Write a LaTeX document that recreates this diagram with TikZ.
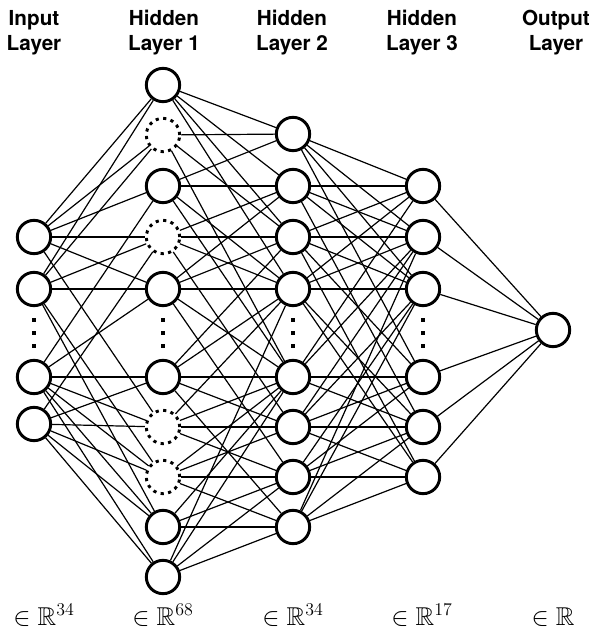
\documentclass[tikz,border=0pt]{standalone}
\usepackage{amssymb}
\usepackage{fontspec}
\setsansfont{TeX Gyre Heros}
\usetikzlibrary{positioning}
\newcommand{\dimtext}[1]{\scalebox{1.12}{$\in\mathbb{R}#1$}}

\begin{document}
\begin{tikzpicture}[
      x=0.75pt, y=-0.75pt,
      neuron/.style ={circle, draw, line width=2.2pt, minimum size=25pt, inner sep=0pt},
      dropped/.style={neuron, dash pattern=on 2.4pt off 3.3pt},
      wire/.style   ={line width=0.9pt},
      layer/.style  ={font=\sffamily\bfseries\fontsize{15.5}{18.75}\selectfont, align=center, anchor=north, inner sep=0pt},
      dim/.style    ={font=\fontsize{17.28}{20}\selectfont, anchor=base, inner sep=0pt}
    ]
    \useasboundingbox (0, 0) rectangle (592, 630) ;

    % titles
    \node [layer] (tin)  at ( 34, 10) {Input\\Layer} ;
    \node [layer] (th1)  at (164, 10) {Hidden\\Layer 1} ;
    \node [layer] (th2)  at (292, 10) {Hidden\\Layer 2} ;
    \node [layer] (th3)  at (422, 10) {Hidden\\Layer 3} ;
    \node [layer] (tout) at (556, 10) {Output\\Layer} ;

    % neurons
    \foreach \n/\y in {d/237, e/289, f/377, g/424}
      \node [neuron] (in-\n) at (34, \y) {} ;
    \foreach \n/\y in {a/85, c/186, e/289, f/377, i/527, j/577}
      \node [neuron] (h1-\n) at (163, \y) {} ;
    \foreach \n/\y in {b/135, d/237, g/427, h/477}
      \node [dropped] (h1-\n) at (163, \y) {} ;
    \foreach \n/\y in {b/134, c/186, d/237, e/289, f/377, g/427, h/477, i/527}
      \node [neuron] (h2-\n) at (293, \y) {} ;
    \foreach \n/\y in {c/186, d/237, e/289, f/377, g/427, h/477}
      \node [neuron] (h3-\n) at (423, \y) {} ;
    \node [neuron] (out) at (553, 330) {} ;

    % vertical dots
    \foreach \x in {34, 163, 293, 423}
      \foreach \y in {320, 333, 346}
        \fill (\x-2.2, \y-2.2) rectangle +(4.4, 4.4) ;

    % connections
    \foreach \s/\t in {d/a, d/b, d/c, d/d, d/e, d/g, e/a, e/b, e/d, e/e, e/h, e/i,
                       f/c, f/e, f/f, f/g, f/h, f/i, f/j, g/d, g/f, g/g, g/h, g/i, g/j}
      \draw [wire] (in-\s) -- (h1-\t) ;
    \foreach \s/\t in {a/b, a/c, a/d, a/e, b/b, b/d, b/f, c/b, c/c, c/e, c/f,
                       d/c, d/d, d/e, d/g, e/c, e/d, e/e, e/f, e/h, f/d, f/e, f/f, f/g, f/i,
                       g/e, g/f, g/g, g/h, h/f, h/g, h/h, h/i, i/f, i/h, i/i, j/e, j/f, j/h, j/i}
      \draw [wire] (h1-\s) -- (h2-\t) ;
    \foreach \s/\t in {b/c, b/d, b/e, b/f, c/c, c/d, c/e, c/g, d/c, d/d, d/e, d/f, d/h,
                       e/c, e/d, e/e, e/g, e/h, f/c, f/d, f/f, f/g, g/d, g/e, g/f, g/g, g/h,
                       h/e, h/f, h/g, h/h, i/d, i/e, i/g, i/h}
      \draw [wire] (h2-\s) -- (h3-\t) ;
    \foreach \s in {c, d, e, f, g, h}
      \draw [wire] (h3-\s) -- (out) ;

    % dimensions
    \node [dim] (din)  at ( 44, 625) {\dimtext{^{34}}} ;
    \node [dim] (dh1)  at (163, 625) {\dimtext{^{68}}} ;
    \node [dim] (dh2)  at (293, 625) {\dimtext{^{34}}} ;
    \node [dim] (dh3)  at (422, 625) {\dimtext{^{17}}} ;
    \node [dim] (dout) at (553, 625) {\dimtext{}} ;
  \end{tikzpicture}
\end{document}
